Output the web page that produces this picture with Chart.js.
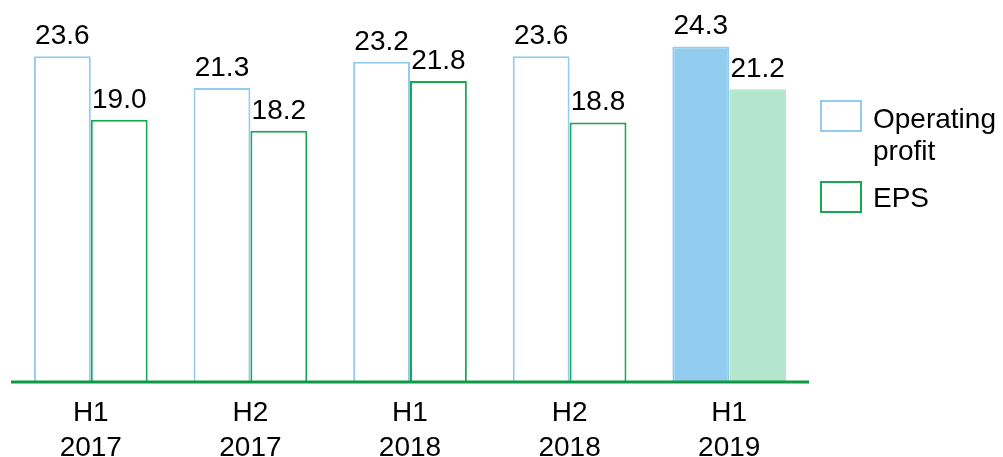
<!DOCTYPE html>
<html>
<head>
<meta charset="utf-8">
<script src="https://cdn.jsdelivr.net/npm/chart.js@4/dist/chart.umd.min.js"></script>
<style>
  html, body { margin: 0; padding: 0; background: #fff; }
  #wrap { width: 1003px; height: 457px; position: relative; }
</style>
</head>
<body>
<div id="wrap"><canvas id="chart"></canvas></div>
<script>
const periods = [["H1", "2017"], ["H2", "2017"], ["H1", "2018"], ["H2", "2018"], ["H1", "2019"]];
const operatingProfit = [23.6, 21.3, 23.2, 23.6, 24.3];
const eps = [19.0, 18.2, 21.8, 18.8, 21.2];
const seriesNames = [["Operating", "profit"], ["EPS"]];

const blue = "#92CBEE";
const blueFill = "#92CDF0";
const green = "#17A851";
const greenFill = "#B3E6CC";
const axisGreen = "#0E9A45";
const font = "'Liberation Sans', Arial, sans-serif";

// last period is highlighted with solid bars
const opFill = operatingProfit.map((v, i) => i === operatingProfit.length - 1 ? blueFill : "#ffffff");
const epsFill = eps.map((v, i) => i === eps.length - 1 ? greenFill : "#ffffff");
const opBorder = operatingProfit.map((v, i) => i === operatingProfit.length - 1 ? blueFill : blue);
const epsBorder = eps.map((v, i) => i === eps.length - 1 ? greenFill : green);

const valueLabels = {
  id: "valueLabels",
  afterDatasetsDraw(chart) {
    const ctx = chart.ctx;
    const area = chart.chartArea;
    ctx.save();
    // baseline along the x axis, on top of the bars
    ctx.strokeStyle = axisGreen;
    ctx.lineWidth = 3;
    ctx.beginPath();
    ctx.moveTo(area.left, area.bottom);
    ctx.lineTo(area.right, area.bottom);
    ctx.stroke();

    ctx.font = "28px " + font;
    ctx.fillStyle = "#000";
    ctx.textAlign = "center";
    ctx.textBaseline = "alphabetic";
    chart.data.datasets.forEach((ds, di) => {
      chart.getDatasetMeta(di).data.forEach((bar, i) => {
        ctx.fillText(ds.data[i].toFixed(1), bar.x, bar.y - 12);
      });
    });
    ctx.restore();
  }
};

const sideLegend = {
  id: "sideLegend",
  afterDraw(chart) {
    const ctx = chart.ctx;
    const items = [
      { name: seriesNames[0], color: blue, boxY: 101, textY: 128 },
      { name: seriesNames[1], color: green, boxY: 182, textY: 207 }
    ];
    ctx.save();
    ctx.font = "28px " + font;
    ctx.fillStyle = "#000";
    ctx.textAlign = "left";
    ctx.textBaseline = "alphabetic";
    ctx.lineWidth = 2;
    items.forEach(it => {
      ctx.strokeStyle = it.color;
      ctx.strokeRect(821, it.boxY, 40, 30);
      it.name.forEach((line, k) => {
        ctx.fillText(line, 873, it.textY + k * 32);
      });
    });
    ctx.restore();
  }
};

new Chart(document.getElementById("chart"), {
  type: "bar",
  data: {
    labels: periods,
    datasets: [
      {
        label: "Operating profit",
        data: operatingProfit,
        backgroundColor: opFill,
        borderColor: opBorder,
        borderWidth: 2,
        borderSkipped: "bottom"
      },
      {
        label: "EPS",
        data: eps,
        backgroundColor: epsFill,
        borderColor: epsBorder,
        borderWidth: 2,
        borderSkipped: "bottom"
      }
    ]
  },
  options: {
    responsive: true,
    maintainAspectRatio: false,
    animation: false,
    datasets: { bar: { categoryPercentage: 0.7125, barPercentage: 1 } },
    layout: { padding: { left: 11, right: 194, top: 23, bottom: 0 } },
    plugins: {
      legend: { display: false },
      tooltip: { enabled: false }
    },
    scales: {
      x: {
        grid: { display: false, drawTicks: false },
        border: { display: false },
        ticks: {
          color: "#000",
          padding: 14,
          font: { family: font, size: 28, lineHeight: 1.25 }
        },
        afterFit(scale) { scale.height = 75; }
      },
      y: {
        display: false,
        min: 0,
        max: 26
      }
    }
  },
  plugins: [valueLabels, sideLegend]
});
</script>
</body>
</html>
